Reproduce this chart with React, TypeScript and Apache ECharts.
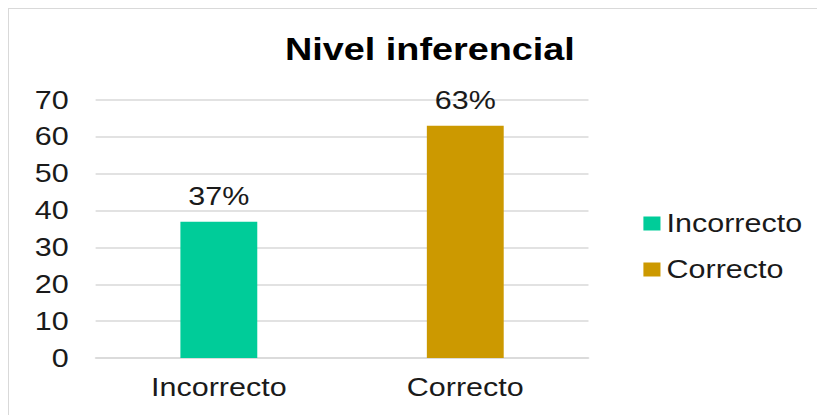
import React, { useEffect, useRef } from "react";
import * as echarts from "echarts";

const categories = ["Incorrecto", "Correcto"];
const values = [37, 63];
const seriesColors = ["#00CC99", "#CC9900"];
const title = "Nivel inferencial";

const STRETCH = 1.22;
const INNER_W = 670;
const INNER_H = 406;

export default function App() {
  const ref = useRef<HTMLDivElement>(null);
  useEffect(() => {
    if (!ref.current) return;
    const chart = echarts.init(ref.current, undefined, { renderer: "svg" });
    const font = "'Liberation Sans', Arial, sans-serif";
    chart.setOption({
      animation: false,
      backgroundColor: "#ffffff",
      title: {
        text: title,
        left: 340,
        textAlign: "center",
        top: 20,
        textStyle: { fontFamily: font, fontSize: 31, fontWeight: "bold", color: "#000000" },
      },
      legend: {
        orient: "vertical",
        left: 515,
        top: 197,
        itemWidth: 14,
        itemHeight: 14,
        itemGap: 21,
        icon: "rect",
        textStyle: { fontFamily: font, fontSize: 25, color: "#1a1a1a" },
        data: categories,
      },
      grid: { left: 71, right: 195, top: 91, bottom: 57 },
      xAxis: {
        type: "category",
        data: categories,
        axisLine: { show: true, lineStyle: { color: "#d9d9d9", width: 1.5 } },
        axisTick: { show: false },
        axisLabel: { fontFamily: font, fontSize: 25, color: "#1a1a1a", margin: 17 },
      },
      yAxis: {
        type: "value",
        min: 0,
        max: 70,
        interval: 10,
        axisLine: { show: false },
        axisTick: { show: false },
        splitLine: { lineStyle: { color: "#d9d9d9", width: 1.5 } },
        axisLabel: { fontFamily: font, fontSize: 25, color: "#1a1a1a", margin: 22 },
      },
      series: categories.map((c, i) => ({
        name: c,
        type: "bar",
        stack: "all",
        barWidth: 63,
        data: categories.map((_, j) => (j === i ? values[i] : null)),
        itemStyle: { color: seriesColors[i] },
        label: {
          show: true,
          position: "top",
          distance: 13,
          formatter: (p: any) => (p.value == null ? "" : p.value + "%"),
          fontFamily: font,
          fontSize: 25,
          color: "#1a1a1a",
        },
      })),
      color: seriesColors,
    });
    return () => chart.dispose();
  }, []);
  return (
    <div
      style={{
        width: 817,
        height: 407,
        borderLeft: "1px solid #d9d9d9",
        borderTop: "1px solid #d9d9d9",
        overflow: "hidden",
        boxSizing: "border-box",
        background: "#ffffff",
      }}
    >
      <div
        ref={ref}
        style={{
          width: INNER_W,
          height: INNER_H,
          transform: `scaleX(${STRETCH})`,
          transformOrigin: "0 0",
        }}
      />
    </div>
  );
}
